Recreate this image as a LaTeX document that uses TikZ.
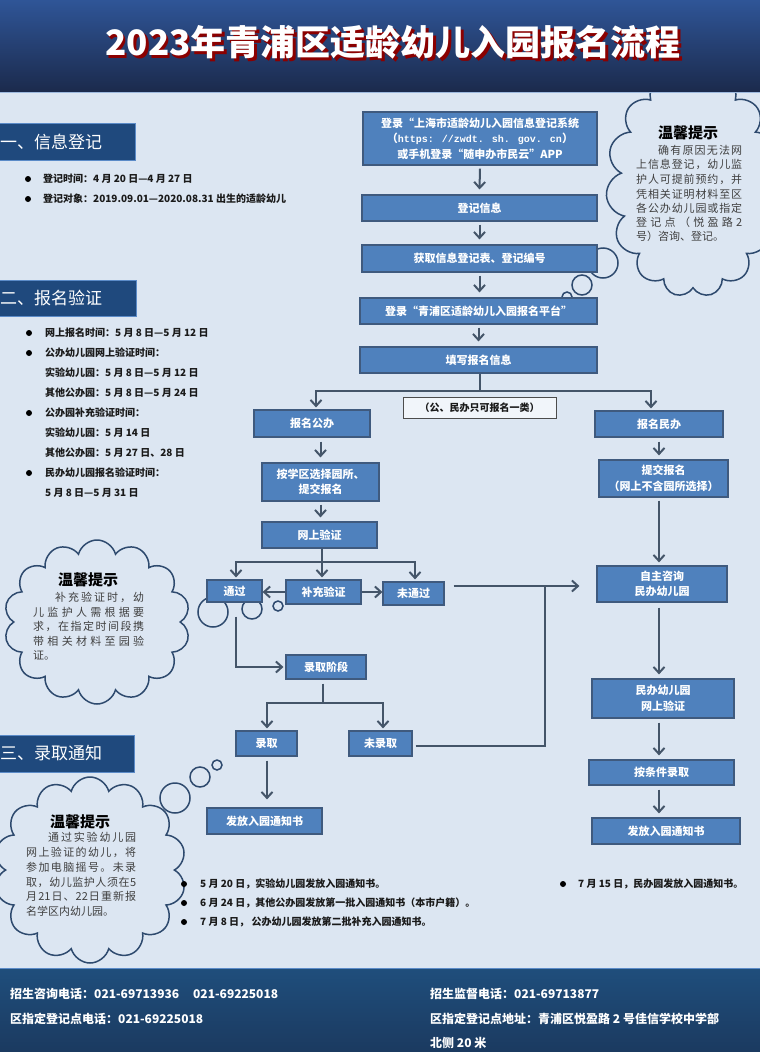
\documentclass[tikz,border=0pt]{standalone}
\usepackage{fontspec}
\setmainfont{Noto Sans CJK SC}
\newfontfamily\monof{Liberation Mono}
\usetikzlibrary{arrows.meta,shapes.symbols}
\definecolor{bg}{HTML}{DCE6F2}
\definecolor{boxfill}{HTML}{4F81BD}
\definecolor{boxline}{HTML}{3F5A7E}
\definecolor{arrowc}{HTML}{445569}
\definecolor{cloudc}{HTML}{2E4A6E}
\definecolor{headfill}{HTML}{1F497D}
\definecolor{headline}{HTML}{5B8BC8}
\definecolor{titletop}{HTML}{2F5597}
\definecolor{titlebot}{HTML}{1B2A4C}
\definecolor{foottop}{HTML}{1F4E7C}
\definecolor{footbot}{HTML}{1B3A60}
\definecolor{shadowred}{HTML}{8B0000}
\definecolor{txt}{HTML}{1A1A1A}
\definecolor{tiptxt}{HTML}{404040}
\def\jfirst#1{#1\jloop}
\def\jloop#1{\ifx\relax#1\else\hfill#1\expandafter\jloop\fi}
\newcommand\jline[2]{\makebox[#1][s]{\jfirst#2\relax}}
\newcommand\shadowtext[1]{\makebox[0pt][l]{\hspace{2.5pt}\raisebox{-2.5pt}{\color{shadowred}#1}}#1}
\tikzset{
  fbox/.style={draw=boxline, line width=1.2pt, fill=boxfill, text=white,
    font=\bfseries\fontsize{11}{15.5}\selectfont, align=center, inner sep=1pt},
  arr/.style={draw=arrowc, line width=2pt, -{Straight Barb[length=6pt,width=11pt]}},
  ln/.style={draw=arrowc, line width=2pt},
  headbox/.style={draw=headline, line width=1pt, fill=headfill, inner sep=0},
  headtext/.style={text=white, font=\fontsize{17}{17}\selectfont, anchor=west, inner sep=0},
  bul/.style={circle, fill=black, inner sep=0, minimum size=6pt},
  btext/.style={text=txt, font=\bfseries\fontsize{10}{12}\selectfont, anchor=west, inner sep=0},
  cloudsh/.style={cloud, cloud ignores aspect, draw=cloudc, line width=1.5pt, fill=bg, inner sep=0},
  bubble/.style={circle, draw=cloudc, line width=1.5pt, inner sep=0},
  tiptitle/.style={text=black, font=\bfseries\fontsize{15}{15}\selectfont, inner sep=0},
  tipline/.style={text=tiptxt, font=\fontsize{11}{11}\selectfont, anchor=west, inner sep=0},
  foot/.style={text=white, font=\bfseries\fontsize{12}{12}\selectfont, anchor=west, inner sep=0},
}
\begin{document}
\begin{tikzpicture}[x=1pt,y=-1pt]
\useasboundingbox (0,0) rectangle (760,1052);
\fill[bg] (0,0) rectangle (760,1052);

% clouds
\node[cloudsh, cloud puffs=15, minimum width=174pt, minimum height=226pt] (c1) at (693,184) {};
\node[bubble, minimum size=30pt] (c1a) at (603,263) {};
\node[bubble, minimum size=20pt] (c1b) at (582,285) {};
\node[bubble, minimum size=10pt] (c1c) at (567,297) {};

\node[cloudsh, cloud puffs=14, minimum width=186pt, minimum height=164pt] (c2) at (97,622) {};
\node[bubble, minimum size=30pt] (c2a) at (213,612) {};
\node[bubble, minimum size=20pt] (c2b) at (252,609) {};
\node[bubble, minimum size=10pt] (c2c) at (278,606) {};

\node[cloudsh, cloud puffs=14, minimum width=192pt, minimum height=186pt] (c3) at (90,870) {};
\node[bubble, minimum size=30pt] (c3a) at (175,798) {};
\node[bubble, minimum size=20pt] (c3b) at (200,777) {};
\node[bubble, minimum size=10pt] (c3c) at (217,765) {};

% title band
\shade[top color=titletop, bottom color=titlebot] (0,0) rectangle (760,92);
\draw[color=headline!60!white, line width=1pt] (0,92.5) -- (760,92.5);
\node[text=white, font=\bfseries\fontsize{35}{35}\selectfont] (title) at (393,44) {\shadowtext{2023年青浦区适龄幼儿入园报名流程}};

% footer band
\shade[top color=foottop, bottom color=footbot] (0,968) rectangle (760,1052);
\draw[color=headline, line width=1pt] (0,968) -- (760,968);
\node[foot] (f1) at (10,994) {招生咨询电话：021-69713936\hspace{14pt}021-69225018};
\node[foot] (f2) at (10,1019) {区指定登记点电话：021-69225018};
\node[foot] (f3) at (430,994) {招生监督电话：021-69713877};
\node[foot] (f4) at (430,1019) {区指定登记点地址：青浦区悦盈路 2 号佳信学校中学部};
\node[foot] (f5) at (430,1043) {北侧 20 米};

% section headers
\node[headbox, minimum width=137pt, minimum height=37pt] (h1) at (67,141.5) {};
\node[headtext] (h1t) at (0,141.5) {一、信息登记};
\node[headbox, minimum width=138pt, minimum height=36pt] (h2) at (67,298) {};
\node[headtext] (h2t) at (0,298) {二、报名验证};
\node[headbox, minimum width=136pt, minimum height=37pt] (h3) at (66,753.5) {};
\node[headtext] (h3t) at (0,753.5) {三、录取通知};

% section 1 bullets
\node[bul] (a1) at (28,179) {};
\node[btext] (a1t) at (43,179) {登记时间：4 月 20 日—4 月 27 日};
\node[bul] (a2) at (28,199) {};
\node[btext] (a2t) at (43,199) {登记对象：2019.09.01—2020.08.31 出生的适龄幼儿};

% section 2 bullets
\node[bul] (s21) at (29,333) {};
\node[btext] (s21t) at (45,333) {网上报名时间：5 月 8 日—5 月 12 日};
\node[bul] (s22) at (29,353) {};
\node[btext] (s22t) at (45,353) {公办幼儿园网上验证时间：};
\node[btext] (s23t) at (45,373) {实验幼儿园：5 月 8 日—5 月 12 日};
\node[btext] (s24t) at (45,393) {其他公办园：5 月 8 日—5 月 24 日};
\node[bul] (s25) at (29,413) {};
\node[btext] (s25t) at (45,413) {公办园补充验证时间：};
\node[btext] (s26t) at (45,433) {实验幼儿园：5 月 14 日};
\node[btext] (s27t) at (45,453) {其他公办园：5 月 27 日、28 日};
\node[bul] (s28) at (29,473) {};
\node[btext] (s28t) at (45,473) {民办幼儿园报名验证时间：};
\node[btext] (s29t) at (45,493) {5 月 8 日—5 月 31 日};

% bottom bullets
\node[bul] (d1) at (184,884) {};
\node[btext] (d1t) at (200,884) {5 月 20 日，实验幼儿园发放入园通知书。};
\node[bul] (d2) at (184,903) {};
\node[btext] (d2t) at (200,903) {6 月 24 日，其他公办园发放第一批入园通知书（本市户籍）。};
\node[bul] (d3) at (184,922) {};
\node[btext] (d3t) at (200,922) {7 月 8 日， 公办幼儿园发放第二批补充入园通知书。};
\node[bul] (d4) at (563,884) {};
\node[btext] (d4t) at (578,884) {7 月 15 日，民办园发放入园通知书。};

% cloud texts
\node[tiptitle] (c1t) at (688,133) {温馨提示};
\node[tipline] (c1l1) at (658,150) {\jline{84pt}{确有原因无法网}};
\node[tipline] (c1l2) at (636,164) {\jline{106pt}{上信息登记，幼儿监}};
\node[tipline] (c1l3) at (636,179) {\jline{106pt}{护人可提前预约，并}};
\node[tipline] (c1l4) at (636,194) {\jline{106pt}{凭相关证明材料至区}};
\node[tipline] (c1l5) at (636,208) {\jline{106pt}{各公办幼儿园或指定}};
\node[tipline] (c1l6) at (636,222) {\jline{106pt}{登记点（悦盈路{2}}};
\node[tipline] (c1l7) at (636,236) {号）咨询、登记。};

\node[tiptitle] (c2t) at (88,580) {温馨提示};
\node[tipline] (c2l1) at (55,597) {\jline{89pt}{补充验证时，幼}};
\node[tipline] (c2l2) at (33,612) {\jline{111pt}{儿监护人需根据要}};
\node[tipline] (c2l3) at (33,626) {\jline{111pt}{求，在指定时间段携}};
\node[tipline] (c2l4) at (33,641) {\jline{111pt}{带相关材料至园验}};
\node[tipline] (c2l5) at (33,655) {证。};

\node[tiptitle] (c3t) at (80,822) {温馨提示};
\node[tipline] (c3l1) at (48,837) {\jline{88pt}{通过实验幼儿园}};
\node[tipline] (c3l2) at (26,852) {\jline{110pt}{网上验证的幼儿，将}};
\node[tipline] (c3l3) at (26,867) {\jline{110pt}{参加电脑摇号。未录}};
\node[tipline] (c3l4) at (26,882) {\jline{110pt}{取，幼儿监护人须在{5}}};
\node[tipline] (c3l5) at (26,896) {\jline{110pt}{月{21}日、{22}日重新报}};
\node[tipline] (c3l6) at (26,911) {名学区内幼儿园。};

% flow boxes
\node[fbox, minimum width=234pt, minimum height=53pt] (b1) at (480,138.5)
  {登录“上海市适龄幼儿入园信息登记系统\\（{\monof\fontsize{10}{15.5}\selectfont https: //zwdt. sh. gov. cn}）\\或手机登录“随申办市民云”APP};
\node[fbox, minimum width=235pt, minimum height=26pt] (b2) at (479.5,208) {登记信息};
\node[fbox, minimum width=235pt, minimum height=27pt] (b3) at (479.5,258.5) {获取信息登记表、登记编号};
\node[fbox, minimum width=237pt, minimum height=26pt] (b4) at (478.5,311) {登录“青浦区适龄幼儿入园报名平台”};
\node[fbox, minimum width=237pt, minimum height=26pt] (b5) at (478.5,360) {填写报名信息};
\node[draw=black!70, line width=1pt, fill=white!60!bg, text=txt, font=\bfseries\fontsize{10}{12}\selectfont,
  minimum width=153pt, minimum height=21pt, inner sep=0] (note) at (479.5,407.5) {（公、民办只可报名一类）};

\node[fbox, minimum width=116pt, minimum height=27pt] (gb) at (312,423.5) {报名公办};
\node[fbox, minimum width=117pt, minimum height=38pt] (gx) at (320.5,482) {按学区选择园所、\\提交报名};
\node[fbox, minimum width=115pt, minimum height=26pt] (gv) at (319.5,535) {网上验证};
\node[fbox, minimum width=55pt, minimum height=22pt] (pass) at (234.5,591) {通过};
\node[fbox, minimum width=75pt, minimum height=24pt] (supp) at (323.5,592) {补充验证};
\node[fbox, minimum width=61pt, minimum height=23pt] (fail) at (413.5,593.5) {未通过};
\node[fbox, minimum width=80pt, minimum height=24pt] (lq) at (326,667) {录取阶段};
\node[fbox, minimum width=61pt, minimum height=25pt] (ok) at (266.5,743.5) {录取};
\node[fbox, minimum width=63pt, minimum height=25pt] (no) at (380.5,743.5) {未录取};
\node[fbox, minimum width=115pt, minimum height=26pt] (n1) at (264.5,821) {发放入园通知书};

\node[fbox, minimum width=128pt, minimum height=26pt] (mb) at (659,424) {报名民办};
\node[fbox, minimum width=129pt, minimum height=37pt] (ms) at (663.5,478.5) {提交报名\\（网上不含园所选择）};
\node[fbox, minimum width=130pt, minimum height=36pt] (mc) at (662,584) {自主咨询\\民办幼儿园};
\node[fbox, minimum width=142pt, minimum height=39pt] (mv) at (663,698.5) {民办幼儿园\\网上验证};
\node[fbox, minimum width=145pt, minimum height=25pt] (ma) at (661.5,772.5) {按条件录取};
\node[fbox, minimum width=148pt, minimum height=26pt] (mn) at (666,831) {发放入园通知书};

% connectors: main column
\draw[arr] ([yshift=-3pt]b1.south) -- ([yshift=5pt]b2.north);
\draw[arr] ([yshift=-3pt]b2.south) -- ([yshift=5pt]b2.south |- b3.north);
\draw[arr] ([yshift=-3pt]b3.south) -- ([yshift=5pt]b3.south |- b4.north);
\draw[arr] ([yshift=-3pt]b4.south) -- ([yshift=5pt]b4.south |- b5.north);
\coordinate (s1) at (480,391);
\draw[ln] (b5.south -| s1) -- (s1);
\draw[arr] (s1) -| ([xshift=4pt,yshift=2pt]gb.north);
\draw[arr] (s1) -| ([xshift=-8pt,yshift=2pt]mb.north);

% public branch
\draw[arr] ([yshift=-4pt]gx.north |- gb.south) -- ([yshift=5pt]gx.north);
\draw[arr] ([yshift=-3pt]gx.south) -- ([yshift=4pt]gx.south |- gv.north);
\coordinate (s2) at (322,562);
\draw[ln] (gv.south -| s2) -- (s2);
\draw[arr] (s2) -| ([xshift=1.5pt,yshift=2pt]pass.north);
\draw[arr] (s2) -- ([yshift=2pt]s2 |- supp.north);
\draw[arr] (s2) -| ([xshift=1.5pt,yshift=2pt]fail.north);
\draw[arr] (supp.west) -- (pass.east |- supp.west);
\draw[arr] (supp.east) -- (fail.west |- supp.east);
\draw[arr] ([xshift=1.5pt,yshift=-14pt]pass.south) |- ([xshift=-2pt]lq.west);
\coordinate (s3) at (323,703);
\draw[ln] ([yshift=-4pt]lq.south -| s3) -- (s3);
\draw[arr] (s3) -| ([xshift=0.5pt,yshift=2pt]ok.north);
\draw[arr] (s3) -| ([xshift=2.5pt,yshift=2pt]no.north);
\draw[arr] ([xshift=0.5pt,yshift=-4pt]ok.south) -- ([xshift=0.5pt,yshift=8pt]ok.south |- n1.north);
\coordinate (j) at (545,586);
\draw[ln] ([xshift=3pt,yshift=-2.5pt]no.east) -| (j);
\draw[arr] ([xshift=9pt]fail.east |- j) -- ([xshift=-17pt]mc.west |- j);

% private branch
\draw[arr] ([yshift=-4pt]mb.south) -- ([yshift=4pt]mb.south |- ms.north);
\draw[arr] ([yshift=-3pt]mb.south |- ms.south) -- ([yshift=3pt]mb.south |- mc.north);
\draw[arr] ([yshift=-5pt]mb.south |- mc.south) -- ([yshift=4pt]mb.south |- mv.north);
\draw[arr] ([yshift=-4pt]mb.south |- mv.south) -- ([yshift=4pt]mb.south |- ma.north);
\draw[arr] ([yshift=-4pt]mb.south |- ma.south) -- ([yshift=4pt]mb.south |- mn.north);
\end{tikzpicture}
\end{document}
